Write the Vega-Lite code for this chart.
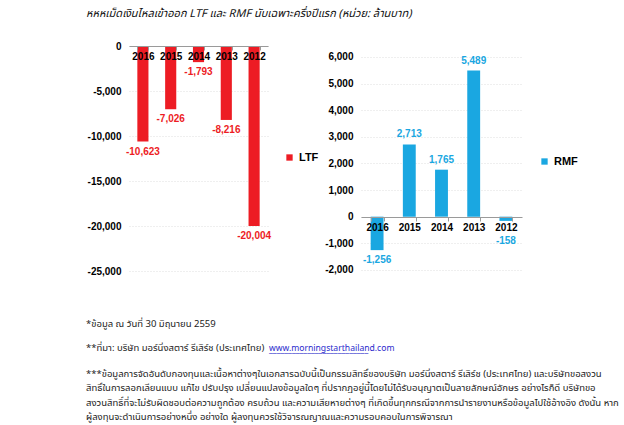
{
  "$schema": "https://vega.github.io/schema/vega-lite/v6.json",
  "padding": {"left": 86, "top": 8, "right": 5, "bottom": 2},
  "background": "white",
  "title": {
    "text": "หหหเม็ดเงินไหลเข้าออก LTF และ RMF นับเฉพาะครึ่งปีแรก (หน่วย: ล้านบาท)",
    "anchor": "start",
    "frame": "bounds",
    "font": "Noto Sans Thai, Noto Sans, sans-serif",
    "fontSize": 11,
    "fontStyle": "italic",
    "fontWeight": "normal",
    "color": "#111111",
    "offset": 22
  },
  "datasets": {
    "ltf": [
      {"year": "2016", "value": -10623},
      {"year": "2015", "value": -7026},
      {"year": "2014", "value": -1793},
      {"year": "2013", "value": -8216},
      {"year": "2012", "value": -20004}
    ],
    "rmf": [
      {"year": "2016", "value": -1256},
      {"year": "2015", "value": 2713},
      {"year": "2014", "value": 1765},
      {"year": "2013", "value": 5489},
      {"year": "2012", "value": -158}
    ],
    "notes": [
      {"line": 0, "part": "text", "text": "*ข้อมูล ณ วันที่ 30 มิถุนายน 2559"},
      {"line": 1.7, "part": "text", "text": "**ที่มา: บริษัท มอร์นิ่งสตาร์ รีเสิร์ช (ประเทศไทย)"},
      {"line": 1.7, "part": "url", "text": "www.morningstarthailand.com"},
      {"line": 3.5, "part": "text", "text": "***ข้อมูลการจัดอันดับกองทุนและเนื้อหาต่างๆในเอกสารฉบับนี้เป็นกรรมสิทธิ์ของบริษัท มอร์นิ่งสตาร์ รีเสิร์ช (ประเทศไทย) และบริษัทขอสงวน"},
      {"line": 4.5, "part": "text", "text": "สิทธิ์ในการลอกเลียนแบบ แก้ไข ปรับปรุง เปลี่ยนแปลงข้อมูลใดๆ ที่ปรากฏอยู่นี้โดยไม่ได้รับอนุญาตเป็นลายลักษณ์อักษร อย่างไรก็ดี บริษัทขอ"},
      {"line": 5.5, "part": "text", "text": "สงวนสิทธิ์ที่จะไม่รับผิดชอบต่อความถูกต้อง ครบถ้วน และความเสียหายต่างๆ ที่เกิดขึ้นทุกกรณีจากการนำรายงานหรือข้อมูลไปใช้อ้างอิง ดังนั้น หาก"},
      {"line": 6.5, "part": "text", "text": "ผู้ลงทุนจะดำเนินการอย่างหนึ่ง อย่างใด ผู้ลงทุนควรใช้วิจารณญาณและความรอบคอบในการพิจารณา"}
    ]
  },
  "align": "none",
  "spacing": 43,
  "vconcat": [
    {
      "spacing": 5,
      "resolve": {"scale": {"color": "independent", "y": "independent", "x": "independent"}, "legend": {"color": "independent"}},
      "hconcat": [
        {
          "width": 139,
          "height": 225,
          "data": {"name": "ltf"},
          "encoding": {
            "x": {
              "field": "year", "type": "nominal", "sort": null,
              "scale": {"paddingInner": 0.6, "paddingOuter": 0.3},
              "axis": {"orient": "bottom", "offset": -225, "title": null, "labelAngle": 0, "tickBand": "extent", "tickSize": 4, "labelPadding": 1, "zindex": 1}
            },
            "y": {
              "field": "value", "type": "quantitative",
              "scale": {"domain": [-25000, 0], "nice": false},
              "axis": {"values": [0, -5000, -10000, -15000, -20000, -25000], "title": null, "format": ",d", "domain": false, "ticks": false, "grid": true, "labelPadding": 8}
            }
          },
          "layer": [
            {
              "mark": {"type": "bar", "color": "#ED1C24"},
              "encoding": {
                "color": {
                  "datum": "LTF",
                  "scale": {"range": ["#ED1C24"]},
                  "legend": {"title": null, "orient": "none", "legendX": 155, "legendY": 106, "symbolType": "square", "symbolSize": 40, "labelFontSize": 11}
                }
              }
            },
            {
              "mark": {"type": "text", "baseline": "top", "dy": 5, "color": "#ED1C24", "fontWeight": "bold", "fontSize": 10, "font": "Liberation Sans, Arial, sans-serif"},
              "encoding": {"text": {"field": "value", "format": ",d"}}
            }
          ]
        },
        {
          "width": 161,
          "height": 225,
          "data": {"name": "rmf"},
          "encoding": {
            "x": {
              "field": "year", "type": "nominal", "sort": null,
              "scale": {"paddingInner": 0.6, "paddingOuter": 0.3},
              "axis": {"orient": "bottom", "offset": -54, "title": null, "labelAngle": 0, "tickBand": "extent", "tickSize": 4, "labelPadding": 1, "zindex": 1}
            },
            "y": {
              "field": "value", "type": "quantitative",
              "scale": {"domain": [-2040, 6410], "nice": false, "zero": false},
              "axis": {"values": [-2000, -1000, 0, 1000, 2000, 3000, 4000, 5000, 6000], "title": null, "format": ",d", "domain": false, "ticks": false, "grid": true, "labelPadding": 8}
            }
          },
          "layer": [
            {
              "mark": {"type": "bar", "color": "#1AA7E1"},
              "encoding": {
                "color": {
                  "datum": "RMF",
                  "scale": {"range": ["#1AA7E1"]},
                  "legend": {"title": null, "orient": "none", "legendX": 178, "legendY": 110, "symbolType": "square", "symbolSize": 40, "labelFontSize": 11}
                }
              }
            },
            {
              "transform": [{"filter": "datum.value >= 0"}],
              "mark": {"type": "text", "baseline": "bottom", "dy": -5, "color": "#1AA7E1", "fontWeight": "bold", "fontSize": 10, "font": "Liberation Sans, Arial, sans-serif"},
              "encoding": {"text": {"field": "value", "format": ",d"}}
            },
            {
              "transform": [{"filter": "datum.value < 0 && datum.value <= -500"}],
              "mark": {"type": "text", "baseline": "top", "dy": 5, "color": "#1AA7E1", "fontWeight": "bold", "fontSize": 10, "font": "Liberation Sans, Arial, sans-serif"},
              "encoding": {"text": {"field": "value", "format": ",d"}}
            },
            {
              "transform": [{"filter": "datum.value < 0 && datum.value > -500"}],
              "mark": {"type": "text", "baseline": "top", "dy": 15, "color": "#1AA7E1", "fontWeight": "bold", "fontSize": 10, "font": "Liberation Sans, Arial, sans-serif"},
              "encoding": {"text": {"field": "value", "format": ",d"}}
            }
          ]
        }
      ]
    },
    {
      "width": 530,
      "height": 93,
      "data": {"name": "notes"},
      "encoding": {
        "x": {"datum": 0, "type": "quantitative", "scale": {"domain": [0, 1]}, "axis": null},
        "y": {"field": "line", "type": "quantitative", "scale": {"domain": [0, 6.5], "reverse": true}, "axis": null},
        "text": {"field": "text"}
      },
      "layer": [
        {
          "transform": [{"filter": "datum.part === 'text'"}],
          "mark": {"type": "text", "align": "left", "baseline": "middle", "dx": -43, "fontSize": 9.5, "color": "#222222", "font": "Noto Sans Thai, Noto Sans, sans-serif"}
        },
        {
          "transform": [{"filter": "datum.part === 'url'"}],
          "mark": {"type": "text", "align": "left", "baseline": "middle", "dx": 140, "fontSize": 8.6, "color": "#2A2ACC", "font": "Noto Sans Thai, Noto Sans, sans-serif"}
        },
        {
          "transform": [{"filter": "datum.part === 'url'"}],
          "mark": {"type": "text", "align": "left", "baseline": "middle", "dx": 140, "dy": 1, "fontSize": 8.6, "color": "#2A2ACC", "font": "Noto Sans, sans-serif"},
          "encoding": {"text": {"value": "__________________________"}}
        }
      ]
    }
  ],
  "config": {
    "view": {"stroke": null},
    "locale": {"number": {"decimal": ".", "thousands": ",", "grouping": [3], "currency": ["$", ""], "minus": "-"}},
    "axis": {
      "labelFont": "Liberation Sans, Arial, sans-serif",
      "labelFontSize": 10,
      "labelFontWeight": "bold",
      "labelColor": "#000000",
      "domainColor": "#9a9a9a",
      "tickColor": "#9a9a9a",
      "gridColor": "#dedede",
      "gridDash": [1, 2]
    },
    "legend": {
      "labelFont": "Liberation Sans, Arial, sans-serif",
      "labelFontWeight": "bold",
      "labelColor": "#000000"
    }
  }
}
